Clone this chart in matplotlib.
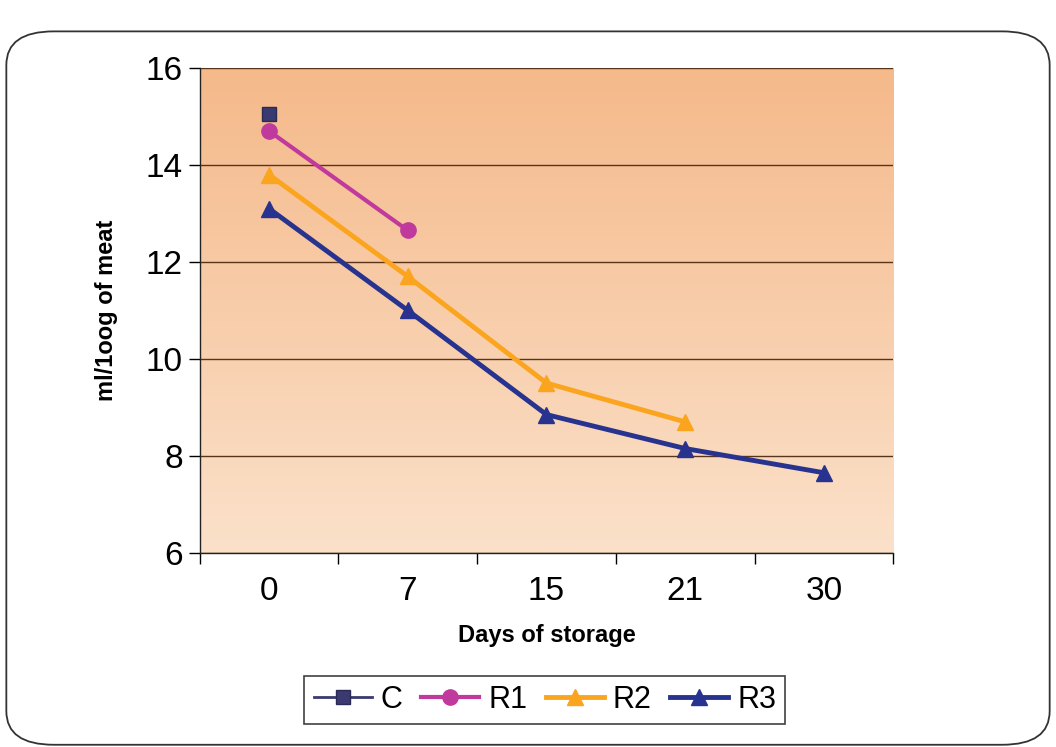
import numpy as np
import matplotlib
matplotlib.use("Agg")
import matplotlib.pyplot as plt
from matplotlib.patches import FancyBboxPatch
from matplotlib.colors import LinearSegmentedColormap

plt.rcParams['font.family'] = ['Liberation Sans', 'DejaVu Sans']

days = ["0", "7", "15", "21", "30"]
c_vals = [15.05]
r1_vals = [14.7, 12.65]
r2_vals = [13.8, 11.7, 9.5, 8.7]
r3_vals = [13.1, 11.0, 8.85, 8.15, 7.65]
y_ticks = [6, 8, 10, 12, 14, 16]

fig = plt.figure(figsize=(10.56, 7.47), dpi=100)
fig.patch.set_facecolor('white')

# outer rounded frame
frame = FancyBboxPatch((0.006, 0.003), 0.988, 0.955,
                       boxstyle="round,pad=0,rounding_size=0.045",
                       transform=fig.transFigure, fill=False,
                       edgecolor='#333333', linewidth=1.3)
fig.patches.append(frame)

ax = fig.add_axes([0.189, 0.26, 0.657, 0.649])
ax.set_xlim(-0.5, 4.5)
ax.set_ylim(6, 16)

# gradient background
cmap = LinearSegmentedColormap.from_list('bg', ['#FBE1CA', '#F5B98A'])
grad = np.linspace(0, 1, 256).reshape(-1, 1)
ax.imshow(grad, extent=[-0.5, 4.5, 6, 16], origin='lower', aspect='auto',
          cmap=cmap, zorder=0)

ax.set_axisbelow(True)
ax.yaxis.grid(True, color='#5a3418', linewidth=1.0)
ax.set_yticks(y_ticks)
ax.set_yticklabels([str(v) for v in y_ticks], fontsize=24)

x = np.arange(len(days))
ax.set_xticks(x)
ax.set_xticklabels(days, fontsize=24)
ax.set_xticks(np.arange(-0.5, 4.6, 1.0), minor=True)
ax.tick_params(axis='x', which='major', length=0, pad=17)
ax.tick_params(axis='x', which='minor', length=8, width=1, direction='out')
ax.tick_params(axis='y', length=8, width=1, direction='out', pad=4)

for s in ['top', 'right']:
    ax.spines[s].set_visible(False)
for s in ['left', 'bottom']:
    ax.spines[s].set_color('#222222')
    ax.spines[s].set_linewidth(1.0)

ax.plot(x[:len(c_vals)], c_vals, color='#3a3a70', marker='s', markersize=10,
        linewidth=2, label='C', markeredgecolor='#2a2a55', zorder=3)
ax.plot(x[:len(r1_vals)], r1_vals, color='#C0399C', marker='o', markersize=11,
        linewidth=3, label='R1', zorder=3)
ax.plot(x[:len(r2_vals)], r2_vals, color='#FBA51E', marker='^', markersize=12,
        linewidth=3.5, label='R2', zorder=3)
ax.plot(x[:len(r3_vals)], r3_vals, color='#27338E', marker='^', markersize=12,
        linewidth=3.5, label='R3', zorder=3)

ax.set_xlabel('Days of storage', fontsize=17, fontweight='bold', labelpad=12)
ax.set_ylabel('ml/1oog of meat', fontsize=17, fontweight='bold', labelpad=20)

leg = fig.legend(loc='center', bbox_to_anchor=(0.516, 0.063), ncol=4,
                 fontsize=22, frameon=True, fancybox=False, handlelength=1.9,
                 handletextpad=0.3, columnspacing=0.6, borderpad=0.3)
leg.get_frame().set_edgecolor('#111111')
leg.get_frame().set_linewidth(1.2)

fig.savefig('out.png', dpi=100, facecolor='white')
